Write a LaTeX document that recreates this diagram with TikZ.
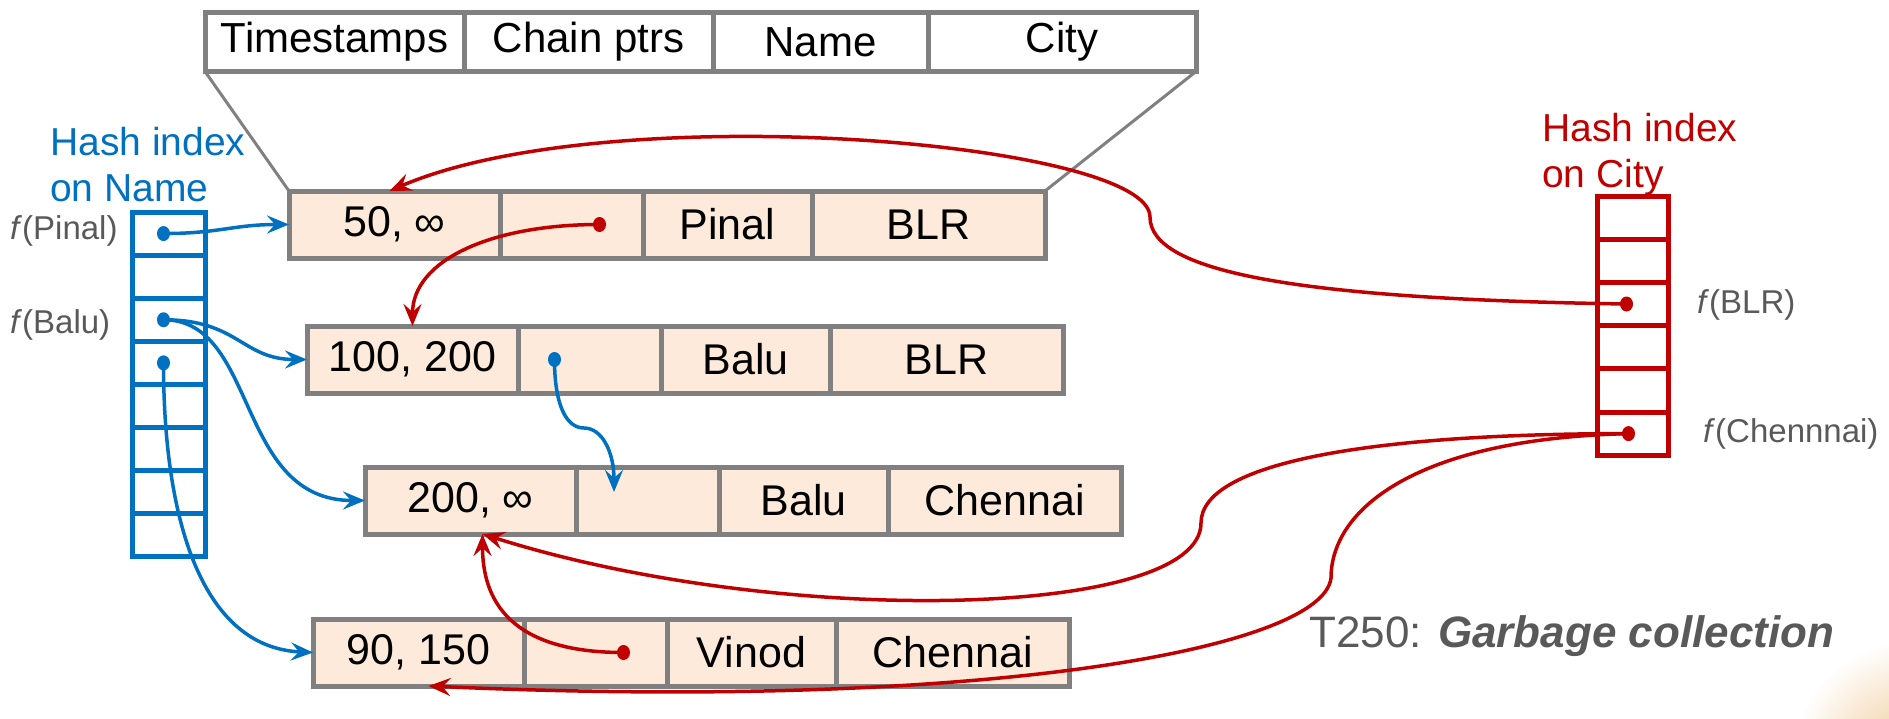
\documentclass[tikz,border=0pt]{standalone}
\usepackage{fontspec}
\setmainfont{Liberation Sans}
\usetikzlibrary{arrows.meta}
\definecolor{idxblue}{HTML}{0070C0}
\definecolor{idxred}{HTML}{C00000}
\definecolor{bordergray}{HTML}{808080}
\definecolor{peach}{HTML}{FDEADA}
\definecolor{txtgray}{HTML}{595959}
\definecolor{glow}{RGB}{238,196,140}
\tikzset{
  cellbox/.style={draw=bordergray, line width=5pt, fill=peach, minimum height=67pt,
    inner sep=0pt, outer sep=0pt, anchor=west, font=\fontsize{43}{50}\selectfont},
  hdrbox/.style={draw=bordergray, line width=5pt, fill=white, minimum height=59pt,
    inner sep=0pt, outer sep=0pt, anchor=west, font=\fontsize{42}{50}\selectfont},
  bhash/.style={draw=idxblue, line width=5pt, minimum width=73pt, minimum height=43.1pt, inner sep=0pt, outer sep=0pt},
  rhash/.style={draw=idxred, line width=5pt, minimum width=71pt, minimum height=43.2pt, inner sep=0pt, outer sep=0pt},
  flabel/.style={text=txtgray, anchor=west, inner sep=0pt, font=\fontsize{33}{40}\selectfont},
  idxlabel/.style={anchor=north west, inner sep=0pt, align=left, font=\fontsize{39}{46}\selectfont},
  bluearrow/.style={draw=idxblue, line width=3.5pt, -{Stealth[length=22pt,width=18pt,inset=8pt]}},
  redarrow/.style={draw=idxred, line width=3.5pt, -{Stealth[length=22pt,width=18pt,inset=8pt]}},
  funnel/.style={draw=bordergray, line width=3pt},
}
\newcommand\tuprow[6]{%
  \node[cellbox, minimum width=211pt] (#1a) at (#2,#3) {#4};
  \node[cellbox, minimum width=143pt] (#1b) at (#1a.east) {};
  \node[cellbox, minimum width=169pt] (#1c) at (#1b.east) {#5};
  \node[cellbox, minimum width=233pt] (#1d) at (#1c.east) {#6};
}
\begin{document}
\begin{tikzpicture}[x=1pt,y=-1pt]
\useasboundingbox (0,0) rectangle (1889,718);
% background glow bottom right
\begin{scope}
  \clip (1700,620) rectangle (1889,718);
  \shade[inner color=glow, outer color=white] (1915,765) circle (125);
\end{scope}
% header
\node[hdrbox, minimum width=259pt] (ha) at (205,42) {Timestamps};
\node[hdrbox, minimum width=249pt] (hb) at (ha.east) {Chain ptrs};
\node[hdrbox, minimum width=215pt] (hc) at (hb.east) {Name};
\node[hdrbox, minimum width=268pt] (hd) at (hc.east) {City};
% rows
\tuprow{ra}{289}{224.5}{50, ∞}{Pinal}{BLR}
\tuprow{rb}{307}{359.5}{100, 200}{Balu}{BLR}
\tuprow{rc}{365}{500.5}{200, ∞}{Balu}{Chennai}
\tuprow{rd}{313}{652.5}{90, 150}{Vinod}{Chennai}
\draw[funnel] (ha.south west) -- (raa.north west);
\draw[funnel] (hd.south east) -- (rad.north east);
% blue hash index
\foreach \i in {1,...,8} \node[bhash] (bh\i) at (168.5,{212+43.1*(\i-0.5)}) {};
\node[idxlabel, text=idxblue] (blbl) at (50,127) {Hash index\\on Name};
\node[flabel] (fpinal) at (10,231) {\textit{f}(Pinal)};
\node[flabel] (fbalu) at (10,325) {\textit{f}(Balu)};
% red hash index
\foreach \i in {1,...,6} \node[rhash] (rh\i) at (1632.5,{196+43.2*(\i-0.5)}) {};
\node[idxlabel, text=idxred] (rlbl) at (1542,113) {Hash index\\on City};
\node[flabel] (fblr) at (1697,305) {\textit{f}(BLR)};
\node[flabel] (fchen) at (1703,434) {\textit{f}(Chennnai)};
% caption
\node[anchor=west, inner sep=0pt, text=txtgray, font=\fontsize{44}{50}\selectfont] (cap) at (1309,636) {T250: \textbf{\textit{Garbage collection}}};
% dot coordinates
\coordinate (bd1) at ([xshift=-5pt]bh1.center);
\coordinate (bd3) at ([xshift=-5pt]bh3.center);
\coordinate (bd4) at ([xshift=-5pt]bh4.center);
\coordinate (rdblr) at ([xshift=-6pt]rh3.center);
\coordinate (rdchen) at ([xshift=-4pt]rh6.center);
\coordinate (cpa) at ([xshift=28pt]rab.center);
\coordinate (cpb) at ([xshift=-35pt]rbb.center);
\coordinate (cpd) at ([xshift=28pt]rdb.center);
\coordinate (tc) at ([xshift=12pt]rca.south);
\coordinate (ta) at ([xshift=-5pt]raa.north);
\coordinate (td) at ([xshift=10pt]rda.south);
\coordinate (tb5) at (614,492);
\coordinate (m1) at (1150,217);
\coordinate (m3) at (1201,523);
\coordinate (m4) at (1331,578);
\coordinate (k5) at (584,428);
% blue connectors
\draw[bluearrow] (bd1) .. controls +(55,0) and +(-55,0) .. (raa.west);
\draw[bluearrow] (bd3) .. controls +(75,0) and +(-65,0) .. (rba.west);
\draw[bluearrow] (bd3) .. controls +(95,0) and +(-130,0) .. (rca.west);
\draw[bluearrow] (bd4) .. controls +(0,160) and +(-110,-5) .. (rda.west);
\draw[bluearrow] (cpb) .. controls +(0,45) and +(-18,0) .. (k5) .. controls +(18,0) and +(0,-40) .. (tb5);
% red connectors
\draw[redarrow] (rdblr) .. controls +(-330,-5) and +(0,55) .. (m1) .. controls +(0,-75) and +(220,-95) .. (ta);
\draw[redarrow] (cpa) .. controls +(-110,0) and +(0,-65) .. (rba.north);
\draw[redarrow] (rdchen) .. controls +(-260,0) and +(0,-60) .. (m3) .. controls +(0,95) and +(300,95) .. (tc);
\draw[redarrow] (rdchen) .. controls +(-210,5) and +(0,-70) .. (m4) .. controls +(-8,70) and +(560,25) .. (td);
\draw[redarrow] (cpd) .. controls +(-115,0) and +(0,65) .. (tc);
% dots
\foreach \p in {bd1,bd3,bd4,cpb} \fill[idxblue] (\p) ellipse (6.5pt and 7.5pt);
\foreach \p in {rdblr,rdchen,cpa,cpd} \fill[idxred] (\p) ellipse (6.5pt and 7.5pt);
\end{tikzpicture}
\end{document}
